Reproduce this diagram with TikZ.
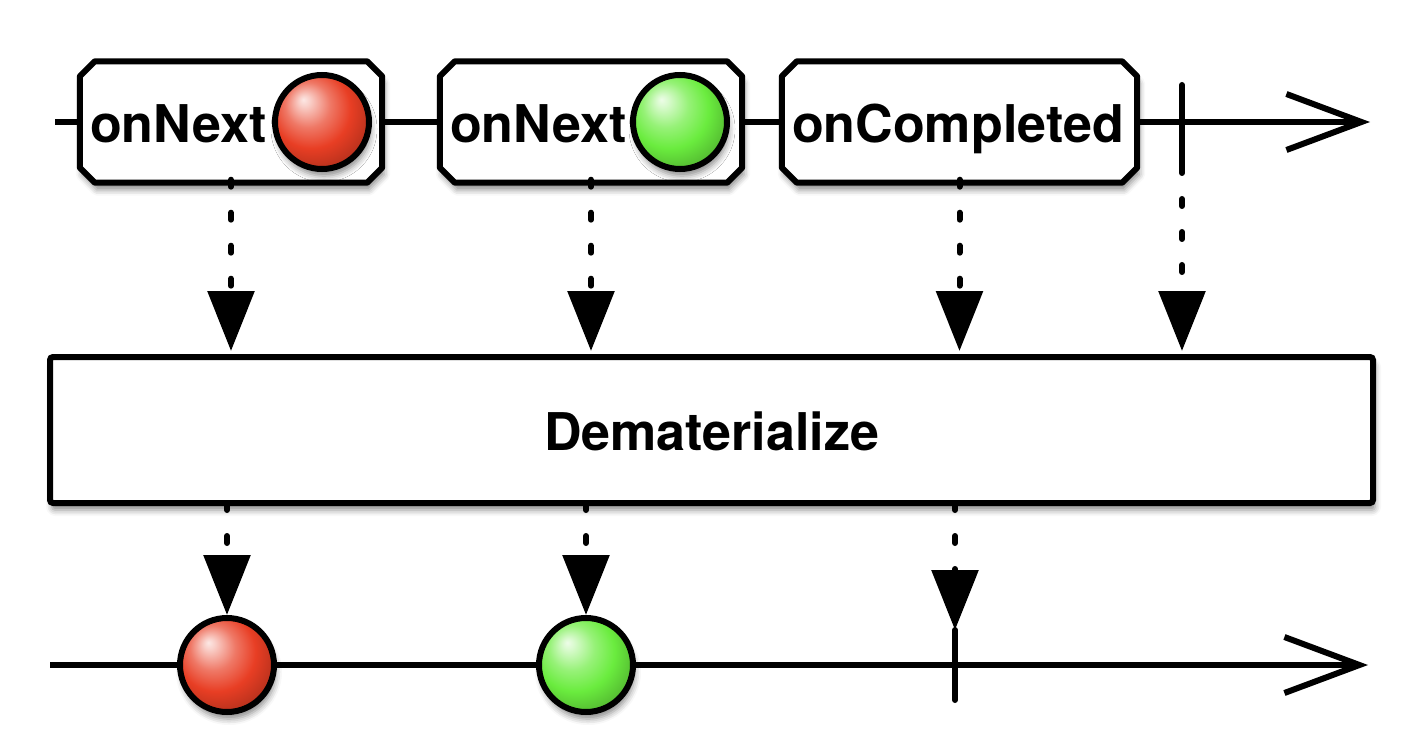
\documentclass[tikz,border=0pt]{standalone}
\usepackage{fontspec}
\setmainfont{TeX Gyre Heros}
\usetikzlibrary{arrows.meta,shadows.blur}
\definecolor{rd}{RGB}{232,62,36}
\definecolor{gr}{RGB}{106,236,62}
\pgfdeclareradialshading{redball}{\pgfqpoint{-10bp}{12bp}}{color(0bp)=(rd!12!white); color(3bp)=(rd!25!white); color(12bp)=(rd!70!white); color(21bp)=(rd); color(30bp)=(rd!80!black); color(36bp)=(rd!55!black); color(50bp)=(rd!40!black)}
\pgfdeclareradialshading{greenball}{\pgfqpoint{-10bp}{12bp}}{color(0bp)=(gr!12!white); color(3bp)=(gr!25!white); color(12bp)=(gr!70!white); color(21bp)=(gr); color(30bp)=(gr!80!black); color(36bp)=(gr!55!black); color(50bp)=(gr!40!black)}
\begin{document}
\begin{tikzpicture}[x=1pt,y=-1pt,
  tline/.style={line width=6pt},
  shd/.style={blur shadow={shadow xshift=2pt,shadow yshift=-7pt,shadow blur radius=6pt,shadow opacity=45}},
  evslot/.style={rectangle, minimum height=121pt, inner sep=0pt},
  octo/.style={draw, line width=6pt, fill=white, line join=round, shd},
  lbl/.style={font=\fontsize{52}{60}\selectfont\bfseries, inner sep=0pt},
  ball/.style={circle, draw, line width=6pt, minimum size=94pt, inner sep=0pt, shd},
  dotarr/.style={draw=black, line width=6pt, line cap=round, dash pattern=on 7pt off 26pt,
    -{Triangle[length=60pt,width=46pt,fill=black]}},
  tickln/.style={line width=6pt, line cap=round},
  chev/.style={-{Straight Barb[length=75pt,width=56pt]}}
]
\useasboundingbox (0,0) rectangle (1422,746);

% ---- top timeline ----
\coordinate (t0) at (55,122);
\coordinate (t1) at (1370,122);
\draw[tline,chev] (t0) -- (t1);

\node[evslot, minimum width=302pt] (b1) at (231,122) {};
\node[evslot, minimum width=302pt] (b2) at (591,122) {};
\node[evslot, minimum width=355pt] (b3) at (959.5,122) {};

\draw[octo] ([xshift=15pt]b1.north west) -- ([xshift=-15pt]b1.north east)
    -- ([yshift=-15pt]b1.north east) -- ([yshift=15pt]b1.south east)
    -- ([xshift=-15pt]b1.south east) -- ([xshift=15pt]b1.south west)
    -- ([yshift=15pt]b1.south west) -- ([yshift=-15pt]b1.north west) -- cycle;
\draw[octo] ([xshift=15pt]b2.north west) -- ([xshift=-15pt]b2.north east)
    -- ([yshift=-15pt]b2.north east) -- ([yshift=15pt]b2.south east)
    -- ([xshift=-15pt]b2.south east) -- ([xshift=15pt]b2.south west)
    -- ([yshift=15pt]b2.south west) -- ([yshift=-15pt]b2.north west) -- cycle;
\draw[octo] ([xshift=15pt]b3.north west) -- ([xshift=-15pt]b3.north east)
    -- ([yshift=-15pt]b3.north east) -- ([yshift=15pt]b3.south east)
    -- ([xshift=-15pt]b3.south east) -- ([xshift=15pt]b3.south west)
    -- ([yshift=15pt]b3.south west) -- ([yshift=-15pt]b3.north west) -- cycle;

\node[lbl, anchor=base west] (l1) at (90,143) {onNext};
\node[lbl, anchor=base west] (l2) at (450,143) {onNext};
\node[lbl, anchor=base] (l3) at (958,143) {onCompleted};

\node[ball, shading=redball] (r1) at (322,122) {};
\node[ball, shading=greenball] (g1) at (680,122) {};

\coordinate (k1a) at (1182,85);
\coordinate (k1b) at (1182,166);
\draw[tickln] (k1a) -- (k1b);

% ---- operator box ----
\node[draw, line width=6pt, fill=white, rounded corners=3pt, minimum width=1323pt,
  minimum height=146pt, inner sep=0pt, shd] (dem) at (711.5,430) {};
\node[lbl, anchor=base] (dl) at (711.5,450) {Dematerialize};

\draw[dotarr] ([yshift=3pt]b1.south) -- ([yshift=3pt]b1.south |- dem.north);
\draw[dotarr] ([yshift=3pt]b2.south) -- ([yshift=3pt]b2.south |- dem.north);
\draw[dotarr] ([yshift=3pt]b3.south) -- ([yshift=3pt]b3.south |- dem.north);
\draw[dotarr] (k1b) -- ([yshift=3pt]k1b |- dem.north);

% ---- bottom timeline ----
\coordinate (u0) at (50,665);
\coordinate (u1) at (1368,665);
\draw[tline,chev] (u0) -- (u1);

\node[ball, shading=redball] (r2) at (227,665) {};
\node[ball, shading=greenball] (g2) at (586,665) {};

\coordinate (k2a) at (955,630);
\coordinate (k2b) at (955,700);
\draw[tickln] (k2a) -- (k2b);

\draw[dotarr] ([yshift=3pt]dem.south -| r2) -- (r2.north);
\draw[dotarr] ([yshift=3pt]dem.south -| g2) -- (g2.north);
\draw[dotarr] ([yshift=3pt]dem.south -| k2a) -- (k2a);
\end{tikzpicture}
\end{document}
